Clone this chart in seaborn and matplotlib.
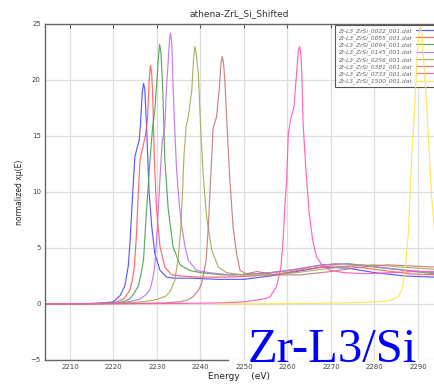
import pandas as pd
import matplotlib
matplotlib.use("Agg")
import matplotlib.pyplot as plt
import seaborn as sns

# curve data (energy in eV, normalized mu)
files = ["Zr-L3_ZrSi_0022_001.dat", "Zr-L3_ZrSi_0055_001.dat", "Zr-L3_ZrSi_0094_001.dat",
         "Zr-L3_ZrSi_0145_001.dat", "Zr-L3_ZrSi_0256_001.dat", "Zr-L3_ZrSi_0381_001.dat",
         "Zr-L3_ZrSi_0733_001.dat", "Zr-L3_ZrSi_1500_001.dat"]
colors = ["#4a4aff", "#ff5a5a", "#4f9f4f", "#bf6fef", "#a8a85a", "#c07878", "#ff55b5", "#ffe34a"]

e_0022 = [2204.3, 2210, 2214, 2217, 2219, 2220, 2221.5, 2222.6, 2223.4, 2223.8, 2224.2, 2224.6,
          2224.9, 2225.4, 2225.9, 2226.2, 2226.6, 2226.9, 2227.2, 2227.6, 2228.2, 2228.8, 2229.5,
          2230.7, 2232.2, 2234, 2238, 2244, 2250, 2256, 2262, 2268, 2274, 2280, 2287, 2293.7]
mu_0022 = [0, 0.01, 0.04, 0.08, 0.15, 0.2, 0.75, 1.6, 3.4, 5.5, 8.4, 11.1,
           13.1, 13.9, 14.6, 16.0, 18.8, 19.7, 19.2, 15.8, 9.9, 6.9, 4.5,
           3.0, 2.4, 2.3, 2.3, 2.2, 2.2, 2.5, 2.9, 3.3, 3.2, 2.8, 2.5, 2.4]

e_0055 = [2204.3, 2210, 2215, 2218, 2220, 2221.2, 2222.3, 2223.2, 2223.8, 2224.3, 2224.8, 2225.3,
          2225.7, 2226.1, 2226.7, 2227.3, 2227.8, 2228.2, 2228.5, 2228.8, 2229.0, 2229.4, 2229.9,
          2230.7, 2231.8, 2233.4, 2235.3, 2240, 2246, 2252, 2258, 2264, 2270, 2276, 2282, 2288, 2293.7]
mu_0055 = [0, 0.01, 0.04, 0.08, 0.1, 0.25, 0.45, 0.9, 1.25, 2.1, 3.3, 6.3,
           9.9, 12.9, 13.9, 15.0, 16.4, 20.0, 21.3, 20.5, 18.8, 12.9, 8.4,
           5.1, 3.3, 2.6, 2.5, 2.4, 2.4, 2.5, 2.7, 3.1, 3.4, 3.3, 3.0, 2.7, 2.6]

e_0094 = [2204.3, 2212, 2217, 2221, 2223, 2223.8, 2224.8, 2225.7, 2226.3, 2226.9, 2227.6, 2228.4,
          2229.0, 2229.5, 2230.0, 2230.3, 2230.6, 2230.9, 2231.3, 2231.8, 2232.6, 2233.7, 2235.3,
          2237.5, 2240, 2245, 2250, 2256, 2262, 2268, 2274, 2280, 2287, 2293.7]
mu_0094 = [0, 0.01, 0.04, 0.1, 0.3, 0.5, 1.0, 1.6, 2.6, 3.9, 8.4, 12.9,
           15.8, 17.3, 20.0, 21.8, 23.2, 22.5, 19.5, 12.9, 8.4, 5.1, 3.5,
           3.0, 2.8, 2.6, 2.6, 2.8, 3.1, 3.5, 3.6, 3.3, 3.0, 2.7]

e_0145 = [2204.3, 2213, 2218, 2222, 2224.6, 2226.1, 2227.4, 2228.4, 2229.0, 2229.5, 2230.1, 2230.7,
          2231.2, 2231.8, 2232.2, 2232.6, 2232.9, 2233.1, 2233.4, 2233.7, 2234.1, 2234.5, 2235.1,
          2235.7, 2236.5, 2237.2, 2239.1, 2242, 2247, 2253, 2259, 2265, 2271, 2277, 2283, 2288, 2293.7]
mu_0145 = [0, 0.01, 0.04, 0.1, 0.3, 0.45, 0.8, 1.3, 2.2, 3.4, 6.9, 11.3,
           14.5, 15.8, 19.4, 21.8, 23.6, 24.2, 23.4, 19.4, 15.5, 12.0, 9.0,
           6.9, 5.0, 3.9, 3.0, 2.8, 2.6, 2.7, 2.9, 3.3, 3.6, 3.5, 3.2, 3.0, 2.8]

e_0256 = [2204.3, 2214, 2222, 2227, 2230, 2232, 2233.0, 2234.1, 2234.9, 2235.5, 2235.9, 2236.2,
          2236.7, 2237.2, 2238.0, 2238.4, 2238.7, 2239.0, 2239.5, 2240.0, 2240.6, 2241.4, 2242.6,
          2244.1, 2246.0, 2250, 2256, 2262, 2268, 2274, 2280, 2286, 2293.7]
mu_0256 = [0, 0.02, 0.08, 0.2, 0.4, 0.7, 1.1, 2.1, 4.2, 6.9, 10.2, 13.2,
           15.8, 16.7, 19.1, 21.8, 23.0, 22.4, 20.6, 16.1, 11.7, 7.8, 4.8,
           3.3, 2.8, 2.6, 2.6, 2.8, 3.1, 3.4, 3.5, 3.3, 3.1]

e_0381 = [2204.3, 2215, 2225, 2232, 2235.3, 2237, 2238.3, 2239.5, 2240.3, 2241.3, 2241.8, 2242.2,
          2242.6, 2242.9, 2243.7, 2244.3, 2244.7, 2245.0, 2245.3, 2245.6, 2246.2, 2246.8, 2247.5,
          2248.3, 2249.1, 2250.5, 2253, 2257, 2263, 2270, 2277, 2283, 2288, 2293.7]
mu_0381 = [0, 0.02, 0.05, 0.1, 0.2, 0.35, 0.65, 1.2, 1.85, 3.9, 6.9, 10.2,
           13.2, 15.7, 16.7, 19.1, 21.4, 22.1, 21.5, 20.0, 15.2, 10.8, 6.9,
           4.5, 3.0, 2.7, 2.9, 2.6, 2.6, 2.9, 3.3, 3.5, 3.4, 3.3]

e_0733 = [2204.3, 2220, 2235, 2245, 2250, 2253, 2255, 2256, 2257.5, 2258.5, 2259.0, 2259.4,
          2259.8, 2260.2, 2260.7, 2261.5, 2262.1, 2262.5, 2262.8, 2263.1, 2263.3, 2263.6, 2264.3,
          2265.0, 2265.8, 2266.7, 2267.9, 2269.8, 2273, 2278, 2284, 2289, 2293.7]
mu_0733 = [0, 0.02, 0.05, 0.1, 0.2, 0.35, 0.5, 0.65, 1.55, 3.3, 5.7, 8.7,
           10.9, 15.2, 16.4, 17.6, 20.6, 22.6, 23.0, 22.2, 20.6, 16.1, 11.7,
           8.1, 5.7, 4.2, 3.5, 3.0, 2.8, 2.7, 2.8, 2.9, 2.9]

e_1500 = [2243.8, 2255, 2265, 2272, 2278, 2282.8, 2284.5, 2285.5, 2286.3, 2287.0, 2287.8, 2288.2,
          2288.6, 2289.0, 2289.3, 2289.9, 2290.3, 2290.6, 2290.9, 2291.2, 2292.0, 2292.6, 2293.1,
          2293.8, 2294.5]
mu_1500 = [0, 0.02, 0.05, 0.1, 0.15, 0.25, 0.45, 0.65, 1.3, 2.7, 6.3, 9.9,
           13.5, 15.8, 17.9, 22.4, 24.3, 24.8, 24.2, 22.4, 17.9, 13.5, 9.9,
           6.5, 4.0]

energies = [e_0022, e_0055, e_0094, e_0145, e_0256, e_0381, e_0733, e_1500]
mus = [mu_0022, mu_0055, mu_0094, mu_0145, mu_0256, mu_0381, mu_0733, mu_1500]

frames = []
for f, e, m in zip(files, energies, mus):
    frames.append(pd.DataFrame({"energy": e, "mu": m, "file": f}))
df = pd.concat(frames, ignore_index=True)

sns.set_style("whitegrid")
fig = plt.figure(figsize=(4.34, 3.85), dpi=100)
ax = fig.add_axes([45 / 434, 25 / 385, 389 / 434, 336 / 385])

sns.lineplot(data=df, x="energy", y="mu", hue="file", palette=colors, estimator=None,
             sort=True, linewidth=0.85, alpha=0.9, ax=ax)

ax.set_xlim(2204.25, 2293.7)
ax.set_ylim(-5, 25)
ax.set_xticks(range(2210, 2300, 10))
ax.set_yticks(range(-5, 30, 5))
ax.grid(color="#dddddd", linewidth=0.9)
ax.tick_params(labelsize=5, colors="#444444", length=0, pad=3)
ax.tick_params(axis="x", top=True, direction="in", length=3, color="#555555")
for s in ["left", "bottom", "top"]:
    ax.spines[s].set_color("#666666")
    ax.spines[s].set_linewidth(1.0)
ax.spines["right"].set_visible(False)
ax.spines["bottom"].set_bounds(2204.25, 2246.3)

ax.set_title("athena-ZrL_Si_Shifted", fontsize=6.5, color="#333333", pad=6)
ax.set_xlabel("Energy    (eV)", fontsize=6.5, color="#222222", labelpad=1)
ax.set_ylabel("normalized x\u03bc(E)", fontsize=5.5, color="#222222", labelpad=5)

handles, labels = ax.get_legend_handles_labels()
leg = ax.legend(handles, labels, loc="upper left", bbox_to_anchor=(0.7455, 0.997),
                fontsize=4.2, labelspacing=0.25, handlelength=3.2, markerfirst=False,
                frameon=True, fancybox=False, borderpad=0.5, borderaxespad=0, framealpha=1)
leg.get_frame().set_edgecolor("#555555")
leg.get_frame().set_linewidth(0.8)
for t in leg.get_texts():
    t.set_color("#666666")
    t.set_fontstyle("italic")
leg.set_zorder(1.5)

fig.text(248 / 434, 1 - 361.7 / 385, "Zr-L3/Si", fontsize=35, color="blue",
         family="Liberation Serif", va="baseline", ha="left")

fig.savefig("out.png", dpi=100)
